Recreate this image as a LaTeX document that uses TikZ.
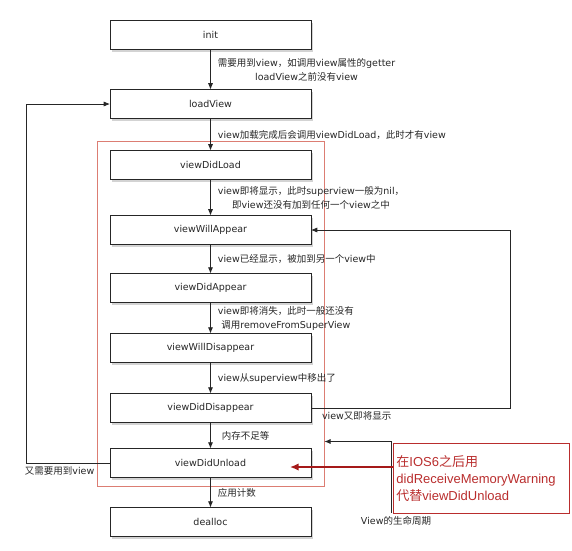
\documentclass[tikz,border=0pt]{standalone}
\usepackage{fontspec}
\setmainfont{DejaVu Sans}
\newfontfamily\cjk{Noto Sans CJK SC}
\newcommand{\zh}[1]{{\cjk #1}}
\usepackage{xcolor}
\usepackage{tikz}
\usetikzlibrary{arrows.meta,positioning,calc,fit,shadows}
\definecolor{warnred}{RGB}{185,45,45}
\definecolor{warndark}{RGB}{165,25,25}
\definecolor{framered}{RGB}{220,125,115}

\begin{document}
\begin{tikzpicture}[
    font=\fontsize{9.5}{14}\selectfont,
    text=black!85,
    stage/.style={draw=black!85, line width=1pt, fill=white, outer sep=0pt,
      minimum width=201pt, minimum height=29pt,
      drop shadow={shadow xshift=1.5pt, shadow yshift=-2pt, opacity=0.35}},
    arrow/.style={-{Latex[length=2.2mm,width=1.8mm]}, line width=0.8pt, draw=black!85},
    lbl/.style={right, xshift=6pt, align=center, inner sep=1pt},
    lifeframe/.style={draw=framered, line width=0.7pt, inner xsep=13pt, inner ysep=9pt},
    warn/.style={draw=warnred, line width=0.9pt, text=warnred, align=left,
      font=\fontspec{Liberation Sans}\fontsize{13}{17}\selectfont,
      text width=170pt, minimum height=70pt, inner xsep=3pt},
    warnarrow/.style={-{Latex[length=3mm,width=2.6mm]}, line width=1.6pt, draw=warndark}
  ]
    \useasboundingbox (0,0) rectangle (572pt,-550pt);
    \node[stage] (init) at (210.5pt,-35pt) {init};
    \node[stage, below=40pt of init] (loadView) {loadView};
    \node[stage, below=32pt of loadView] (viewDidLoad) {viewDidLoad};
    \node[stage, below=36pt of viewDidLoad] (viewWillAppear) {viewWillAppear};
    \node[stage, below=29pt of viewWillAppear] (viewDidAppear) {viewDidAppear};
    \node[stage, below=31pt of viewDidAppear] (viewWillDisappear) {viewWillDisappear};
    \node[stage, below=31pt of viewWillDisappear] (viewDidDisappear) {viewDidDisappear};
    \node[stage, below=26pt of viewDidDisappear] (viewDidUnload) {viewDidUnload};
    \node[stage, below=30pt of viewDidUnload] (dealloc) {dealloc};
    \node[lifeframe, fit=(viewDidLoad)(viewDidUnload)] (lifecycle) {};

    % main chain
    \draw[arrow] (init) -- node[lbl]
      {\zh{需要用到}view\zh{，如调用}view\zh{属性的}getter\\loadView\zh{之前没有}view} (loadView);
    \draw[arrow] (loadView) -- node[lbl]
      {view\zh{加载完成后会调用}viewDidLoad\zh{，此时才有}view} (viewDidLoad);
    \draw[arrow] (viewDidLoad) -- node[lbl]
      {view\zh{即将显示，此时}superview\zh{一般为}nil\zh{，}\\\zh{即}view\zh{还没有加到任何一个}view\zh{之中}} (viewWillAppear);
    \draw[arrow] (viewWillAppear) -- node[lbl]
      {view\zh{已经显示，被加到另一个}view\zh{中}} (viewDidAppear);
    \draw[arrow] (viewDidAppear) -- node[lbl]
      {view\zh{即将消失，此时一般还没有}\\\zh{调用}removeFromSuperView} (viewWillDisappear);
    \draw[arrow] (viewWillDisappear) -- node[lbl]
      {view\zh{从}superview\zh{中移出了}} (viewDidDisappear);
    \draw[arrow] (viewDidDisappear) -- node[lbl, xshift=4pt] {\zh{内存不足等}} (viewDidUnload);
    \draw[arrow] (viewDidUnload) -- node[lbl] {\zh{应用计数}} (dealloc);

    % loops back
    \draw[arrow] (viewDidDisappear.east) -- node[pos=0.23, below] {view\zh{又即将显示}}
      ++(199pt,0) |- (viewWillAppear.east);
    \draw[arrow] (viewDidUnload.west) -- node[pos=0.6, below] {\zh{又需要用到}view}
      ++(-84pt,0) |- (loadView.west);

    % lifecycle note
    \node (lifelabel) at (396pt,-521pt) {View\zh{的生命周期}};
    \coordinate (memtip) at ($(viewDidUnload.north)+(0,7pt)$);
    \draw[arrow] ([xshift=-5pt]lifelabel.north) |- (lifecycle.east |- memtip);

    % iOS 6 remark
    \node[warn, anchor=north west] (ios6) at (393pt,-443pt)
      {\zh{在}IOS6\zh{之后用}\\didReceiveMemoryWarning\\\zh{代替}viewDidUnload};
    \coordinate (warntip) at ([xshift=-21pt,yshift=-4pt]viewDidUnload.east);
    \draw[warnarrow] (ios6.west |- warntip) -- (warntip);
  \end{tikzpicture}
\end{document}
